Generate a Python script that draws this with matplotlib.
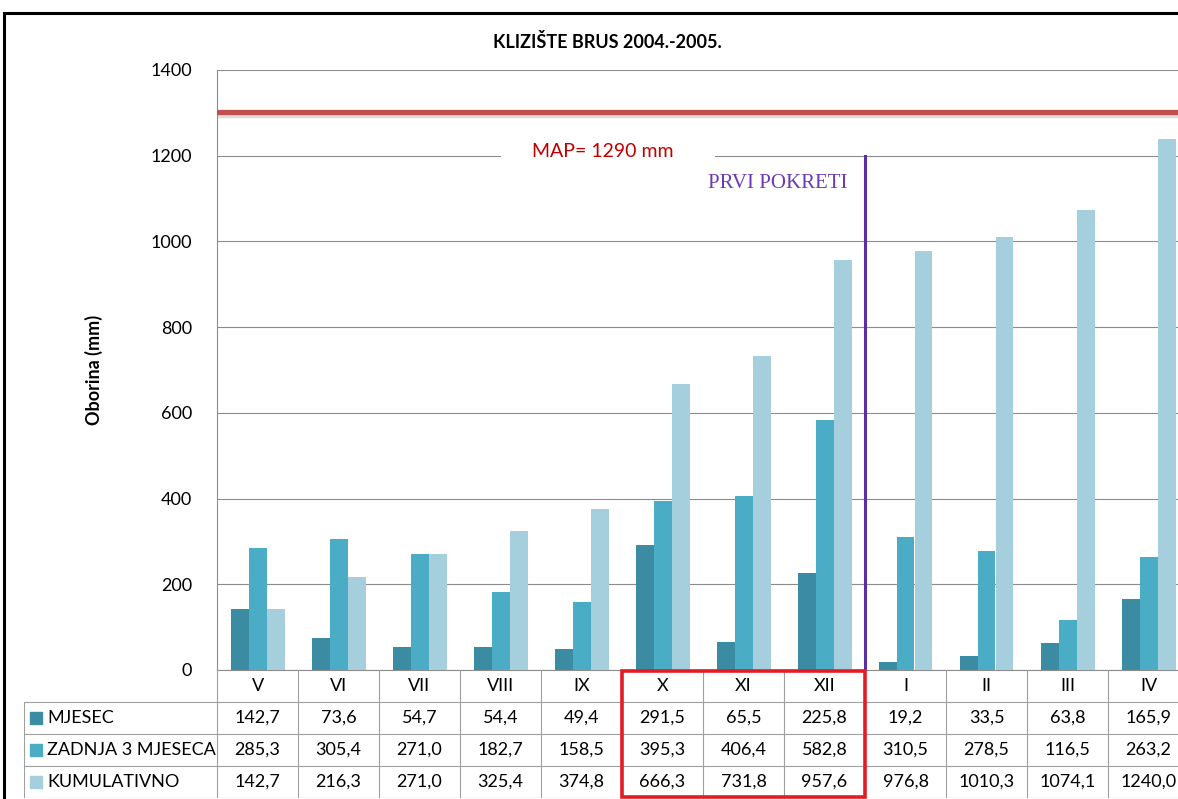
import matplotlib.pyplot as plt
import matplotlib.patheffects as pe
from matplotlib.patches import Rectangle
import numpy as np

plt.rcParams['font.family'] = ['Lato', 'DejaVu Sans']

# Data
months = ["V", "VI", "VII", "VIII", "IX", "X", "XI", "XII", "I", "II", "III", "IV"]
mjesec = [142.7, 73.6, 54.7, 54.4, 49.4, 291.5, 65.5, 225.8, 19.2, 33.5, 63.8, 165.9]
zadnja3 = [285.3, 305.4, 271.0, 182.7, 158.5, 395.3, 406.4, 582.8, 310.5, 278.5, 116.5, 263.2]
kumulativno = [142.7, 216.3, 271.0, 325.4, 374.8, 666.3, 731.8, 957.6, 976.8, 1010.3, 1074.1, 1240.0]
series_names = ["MJESEC", "ZADNJA 3 MJESECA", "KUMULATIVNO"]
colors = ["#3B8CA2", "#4BACC6", "#A6CFDD"]
map_line = 1302
map_label = "MAP= 1290 mm"
first_move = 7.5   # between XII and I
first_move_top = 1200

fig = plt.figure(figsize=(11.78, 7.99), dpi=100)

# chart frame (cut off on the right and bottom in the original)
fig.patches.append(Rectangle((4 / 1178, -0.1), 1.2, 1 - 13 / 799 + 0.1,
                             transform=fig.transFigure, fill=False,
                             edgecolor="black", linewidth=2.2))

ax = fig.add_axes([217 / 1178, 129 / 799, 972 / 1178, 600 / 799])
x = np.arange(len(months))
w = 18 / 81
for k, (vals, c) in enumerate(zip([mjesec, zadnja3, kumulativno], colors)):
    ax.bar(x + (k - 1) * w, vals, width=w, color=c, zorder=3)

ax.set_xlim(-0.5, len(months) - 0.5)
ax.set_ylim(0, 1400)
ax.set_yticks(range(0, 1401, 200))
ax.set_xticks([])
ax.tick_params(axis="y", length=0, pad=18, labelsize=13)
ax.grid(axis="y", color="#8C8C8C", linewidth=0.8, zorder=0)
for s in ["top", "right"]:
    ax.spines[s].set_visible(False)
for s in ["left", "bottom"]:
    ax.spines[s].set_color("#8C8C8C")
    ax.spines[s].set_linewidth(0.8)
ax.set_ylabel("Oborina (mm)", fontsize=13, fontweight="bold", labelpad=34)

# MAP line
ax.axhline(map_line, color="#C0504D", linewidth=3.8, zorder=5,
           path_effects=[pe.SimpleLineShadow(offset=(0, -1.8), shadow_color="#999999", alpha=0.35),
                         pe.Normal()])
ax.text(4.33, 1210, "      " + map_label + "        ", ha="center", va="center",
        fontsize=14, color="#C00000", zorder=6,
        bbox=dict(facecolor="white", edgecolor="none", pad=1))

# first movements line
ax.plot([first_move, first_move], [0, first_move_top], color="#5A2EA6", linewidth=2.2, zorder=6)
ax.text(first_move - 0.22, 1135, "PRVI POKRETI", ha="right", va="center",
        fontsize=15, color="#6A3AB8", family="Liberation Serif")

fig.text(607 / 1178, 1 - 42 / 799, "KLIZIŠTE BRUS 2004.-2005.", ha="center", va="center",
         fontsize=13, fontweight="bold")

# data table
label_left = -0.5 - 193 / 81
tab = fig.add_axes([24 / 1178, 1 / 799, (1189 - 24) / 1178, 128 / 799])
tab.set_xlim(label_left, len(months) - 0.5)
tab.set_ylim(4, 0)
tab.axis("off")
grid_c = "#A0A0A0"
for r in range(1, 5):
    tab.plot([label_left, len(months) - 0.5], [r, r], color=grid_c, linewidth=0.8)
tab.plot([label_left, label_left], [1, 4], color=grid_c, linewidth=0.8)
for b in range(len(months) + 1):
    tab.plot([b - 0.5, b - 0.5], [0, 4], color=grid_c, linewidth=0.8)
for i, m in enumerate(months):
    tab.text(i, 0.5, m, ha="center", va="center", fontsize=13)
for r, (name, vals, c) in enumerate(zip(series_names, [mjesec, zadnja3, kumulativno], colors)):
    y = r + 1.5
    tab.add_patch(Rectangle((label_left + 6 / 81, y - 0.19), 12 / 81, 0.38, color=c))
    tab.text(label_left + 23 / 81, y, name, ha="left", va="center", fontsize=13)
    for i, v in enumerate(vals):
        tab.text(i, y, f"{v:.1f}".replace(".", ","), ha="center", va="center", fontsize=13)

tab.add_patch(Rectangle((4.5, 0.02), 3, 3.94, fill=False, edgecolor="#E31B23",
                        linewidth=2.6, zorder=5, clip_on=False))

fig.savefig("out.png", dpi=100)
